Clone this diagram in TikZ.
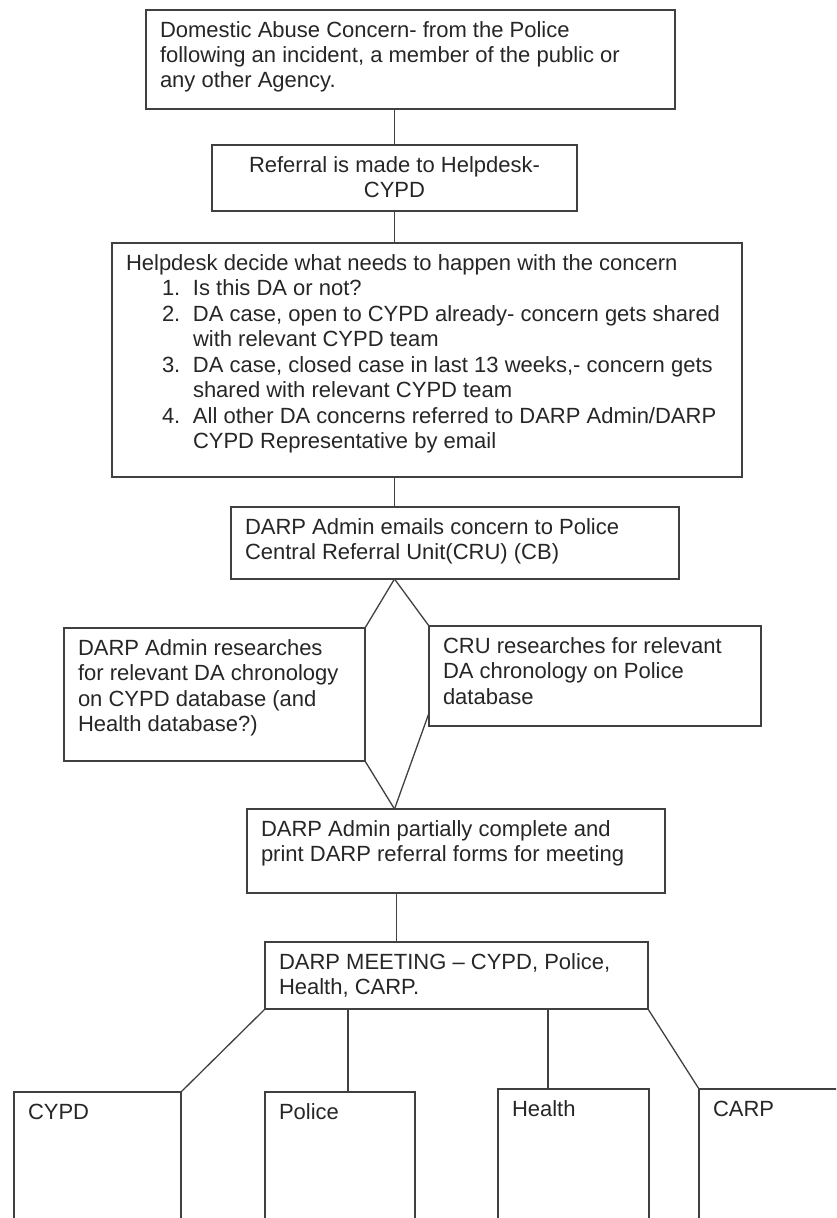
\documentclass[tikz,border=0pt]{standalone}
\usepackage{fontspec}
\setmainfont{Liberation Sans}
\usepackage{xcolor}

\newcommand{\boxtext}[3]{\parbox[t][#2pt][t]{#1pt}{\raggedright\leftskip=14pt\rule{0pt}{27pt}#3}}

\begin{document}
\begin{tikzpicture}[x=1pt, y=-1pt, line width=1.3pt, draw=black!75,
    stage/.style = {draw, anchor=north west, inner sep=0pt, outer sep=0pt, text=black!85, font=\fontsize{22}{25.5}\selectfont}]
        \useasboundingbox (0,0) rectangle (836,1218);
        \clip (0,0) rectangle (836,1218);

        \node[stage] (concern) at (146,10) {\boxtext{529}{99}{Domestic Abuse Concern- from the Police\\following an incident, a member of the public or\\any other Agency.}};
        \node[stage] (referral) at (212,145) {\boxtext{365}{66}{\centering Referral is made to Helpdesk-\\CYPD}};
        \node[stage] (helpdesk) at (112,243) {\boxtext{630}{234}{Helpdesk decide what needs to happen with the concern\\
            \hspace*{36pt}\makebox[31pt][l]{1.}Is this DA or not?\\
            \hspace*{36pt}\makebox[31pt][l]{2.}DA case, open to CYPD already- concern gets shared\\
            \hspace*{67pt}with relevant CYPD team\\
            \hspace*{36pt}\makebox[31pt][l]{3.}DA case, closed case in last 13 weeks,- concern gets\\
            \hspace*{67pt}shared with relevant CYPD team\\
            \hspace*{36pt}\makebox[31pt][l]{4.}All other DA concerns referred to DARP Admin/DARP\\
            \hspace*{67pt}CYPD Representative by email}};
        \node[stage] (emails) at (231,507) {\boxtext{448}{72}{DARP Admin emails concern to Police\\Central Referral Unit(CRU) (CB)}};
        \node[stage] (darpsearch) at (64,628) {\boxtext{301}{133}{DARP Admin researches\\for relevant DA chronology\\on CYPD database (and\\Health database?)}};
        \node[stage] (crusearch) at (429,626) {\boxtext{332}{100}{CRU researches for relevant\\DA chronology on Police\\database}};
        \node[stage] (forms) at (247,809) {\boxtext{418}{84}{DARP Admin partially complete and\\print DARP referral forms for meeting}};
        \node[stage] (meeting) at (265,942) {\boxtext{383}{67}{DARP MEETING -- CYPD, Police,\\Health, CARP.}};
        \node[stage] (cypd) at (14,1092) {\boxtext{167}{150}{CYPD}};
        \node[stage] (police) at (265,1092) {\boxtext{150}{150}{Police}};
        \node[stage] (health) at (498,1089) {\boxtext{151}{150}{Health}};
        \node[stage] (carp) at (699,1089) {\boxtext{150}{150}{CARP}};

        \coordinate (apex) at (referral.south |- emails.south);
        \coordinate (foot) at (referral.south |- forms.north);

        \draw (referral.north) -- (referral.north |- concern.south);
        \draw (referral.south) -- (referral.south |- helpdesk.north);
        \draw (referral.south |- helpdesk.south) -- (referral.south |- emails.north);
        \draw (apex) -- (darpsearch.north east);
        \draw (apex) -- (crusearch.north west);
        \draw (darpsearch.south east) -- (foot);
        \draw ([yshift=13]crusearch.south west) -- (foot);
        \draw ([xshift=2]foot |- forms.south) -- ([xshift=2]foot |- meeting.north);
        \draw (meeting.south west) -- (cypd.north east);
        \draw ([xshift=83]police.north west) -- ([xshift=83]police.north west |- meeting.south);
        \draw ([xshift=50]health.north west) -- ([xshift=50]health.north west |- meeting.south);
        \draw (meeting.south east) -- (carp.north west);
    \end{tikzpicture}
\end{document}
